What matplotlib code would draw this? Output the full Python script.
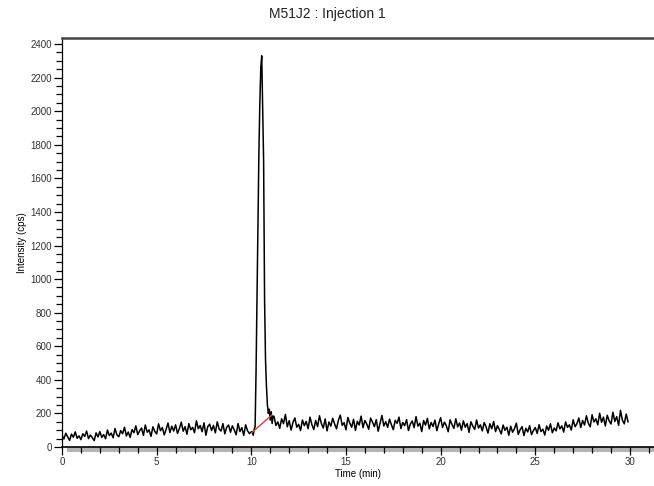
import matplotlib.pyplot as plt
import numpy as np
from matplotlib.patches import Rectangle
from matplotlib.ticker import MultipleLocator

plt.rcParams['font.family'] = ['Liberation Sans', 'DejaVu Sans']

# baseline before the peak, sampled every 0.1 min from 0.0 to 10.0
pre_start, pre_step = 0.0, 0.1
pre_cps = [
    70, 48, 82, 61, 39, 77, 58, 90, 52, 66,
    44, 79, 63, 95, 50, 71, 56, 38, 84, 60,
    92, 57, 74, 49, 101, 68, 83, 55, 110, 72,
    61, 98, 79, 118, 66, 89, 57, 104, 85, 126,
    74, 96, 113, 69, 131, 88, 102, 63, 120, 93,
    78, 138, 97, 116, 72, 105, 143, 86, 124, 95,
    132, 81, 110, 148, 94, 121, 76, 139, 103, 117,
    85, 156, 109, 128, 91, 144, 70, 122, 136, 98,
    129, 84, 150, 107, 95, 139, 78, 118, 131, 88,
    126, 101, 73, 140, 92, 115, 69, 132, 97, 80,
    90,
]

# the peak itself
peak_time = [10.05, 10.1, 10.15, 10.2, 10.25, 10.3, 10.35, 10.4, 10.45, 10.5,
             10.55, 10.6, 10.65, 10.7, 10.75, 10.8, 10.85, 10.9, 10.95, 11.0,
             11.05, 11.1, 11.15]
peak_cps = [92, 70, 105, 120, 450, 900, 1350, 1750, 2050, 2260,
            2330, 2000, 1700, 880, 520, 360, 250, 200, 225, 160,
            210, 140, 185]

# baseline after the peak, every 0.1 min from 11.2 to 29.9
post_start, post_step = 11.2, 0.1
post_cps = [
    182, 128, 150, 111, 168, 139, 194, 120, 157, 101,
    146, 173, 118, 135, 98, 161, 127, 152, 109, 178,
    133, 104, 158, 121, 186, 140, 113, 167, 96, 149,
    124, 171, 137, 108, 160, 190, 129, 145, 102, 176,
    142, 118, 165, 99, 153, 131, 184, 115, 158, 136,
    106, 172, 148, 121, 163, 94, 140, 188, 125, 151,
    117, 166, 132, 103, 159, 141, 178, 110, 146, 127,
    163, 98, 137, 155, 115, 181, 124, 142, 92, 158,
    130, 171, 108, 146, 122, 160, 97, 139, 175, 116,
    148, 126, 91, 162, 134, 111, 168, 120, 143, 100,
    156, 118, 139, 87, 150, 124, 105, 161, 113, 132,
    96, 145, 120, 83, 138, 109, 152, 92, 127, 104,
    78, 131, 99, 118, 70, 124, 88, 109, 142, 75,
    103, 121, 68, 112, 90, 127, 74, 98, 116, 81,
    133, 92, 106, 71, 125, 100, 138, 85, 113, 96,
    144, 108, 126, 89, 150, 117, 132, 101, 162, 121,
    139, 173, 116, 158, 131, 186, 142, 120, 192, 149,
    168, 132, 201, 147, 178, 125, 189, 156, 137, 207,
    152, 181, 129, 218, 160, 138, 196, 150,
]

# integration baseline drawn under the peak
base_time = [10.02, 11.08]
base_cps = [85, 190]

pre_time = pre_start + pre_step * np.arange(len(pre_cps))
post_time = post_start + post_step * np.arange(len(post_cps))
t = np.concatenate([pre_time, peak_time, post_time])
y = np.concatenate([pre_cps, peak_cps, post_cps])

fig = plt.figure(figsize=(6.54, 4.86), dpi=100)
ax = fig.add_axes([62 / 654, 39 / 486, 1 - 62 / 654, 409 / 486])

ax.plot(t, y, color='black', lw=1.1)
ax.plot(base_time, base_cps, color='#e03a3a', lw=1.0)

ax.set_xlim(0, 31.27)
ax.set_ylim(0, 2436)
ax.xaxis.set_major_locator(MultipleLocator(5))
ax.xaxis.set_minor_locator(MultipleLocator(1))
ax.yaxis.set_major_locator(MultipleLocator(200))
ax.yaxis.set_minor_locator(MultipleLocator(50))

ax.spines['right'].set_visible(False)
ax.spines['top'].set_color('#444444')
ax.spines['top'].set_linewidth(1.8)
ax.spines['left'].set_linewidth(0.9)
ax.spines['bottom'].set_linewidth(1.2)

ax.tick_params(axis='both', which='major', length=5.5, width=0.9, labelsize=7,
               labelcolor='#333333', pad=2)
ax.tick_params(axis='both', which='minor', length=4.5, width=0.9)

# grey shading under the time axis
ax.add_patch(Rectangle((0.008, -0.013), 0.992, 0.013, transform=ax.transAxes,
                       color='#b4b4b4', clip_on=False, zorder=0, lw=0))

ax.set_xlabel('Time (min)', fontsize=7, labelpad=1)
ax.set_ylabel('Intensity (cps)', fontsize=7, labelpad=2)
fig.text(0.5, 0.972, 'M51J2 : Injection 1', ha='center', va='center',
         fontsize=10, color='#222222')

fig.savefig('out.png', dpi=100)
